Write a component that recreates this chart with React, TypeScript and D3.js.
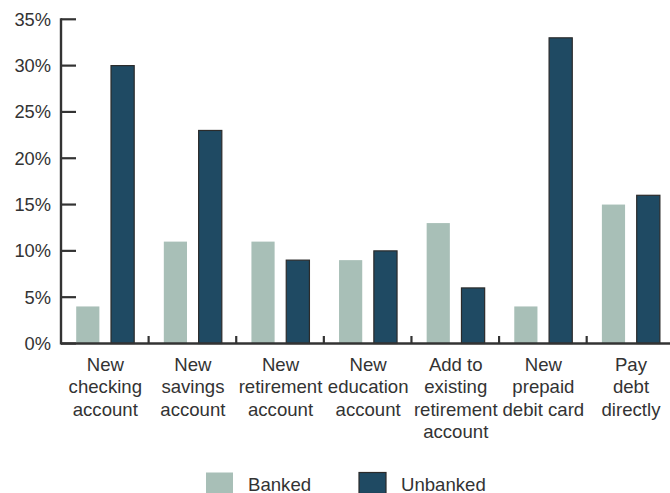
import React from "react";
import * as d3 from "d3";

const categories: string[][] = [
  ["New", "checking", "account"],
  ["New", "savings", "account"],
  ["New", "retirement", "account"],
  ["New", "education", "account"],
  ["Add to", "existing", "retirement", "account"],
  ["New", "prepaid", "debit card"],
  ["Pay", "debt", "directly"],
];
const seriesNames = ["Banked", "Unbanked"];
const banked = [4, 11, 11, 9, 13, 4, 15];
const unbanked = [30, 23, 9, 10, 6, 33, 16];
const yTicks = [0, 5, 10, 15, 20, 25, 30, 35];

const colors = ["#a8bfb7", "#1f4a63"];
const textColor = "#333333";
const font = "Arial, 'Liberation Sans', Helvetica, sans-serif";

export default function App() {
  const W = 670, H = 493;
  const x0 = 61, x1End = 674.3;
  const yScale = d3.scaleLinear().domain([0, 35]).range([343.5, 19.3]);
  const xBand = d3.scaleBand<number>().domain(categories.map((_, i) => i)).range([x0, x1End]).paddingInner(0).paddingOuter(0);
  const inner = d3.scaleBand<string>().domain(seriesNames).range([15.2, 73.2]).paddingInner(0.334).paddingOuter(0);
  const values = [banked, unbanked];

  return (
    <div style={{ position: "fixed", left: 0, top: 0 }}>
      <svg width={W} height={H} style={{ display: "block", background: "#fff" }}>
        {categories.map((_, i) =>
          seriesNames.map((s, si) => {
            const v = values[si][i];
            const bx = (xBand(i) as number) + (inner(s) as number);
            const by = yScale(v);
            return (
              <rect
                key={`${i}-${si}`}
                x={bx}
                y={by}
                width={inner.bandwidth()}
                height={yScale(0) - by}
                fill={colors[si]}
                stroke={si === 1 ? "#2b2b2b" : "none"}
                strokeWidth={si === 1 ? 1.2 : 0}
              />
            );
          })
        )}
        <line x1={x0} x2={x0} y1={yScale(35) - 1} y2={yScale(0) + 1} stroke={textColor} strokeWidth={2.4} />
        {yTicks.map((t) => (
          <g key={t}>
            <line x1={x0} x2={x0 + 15} y1={yScale(t)} y2={yScale(t)} stroke={textColor} strokeWidth={2.2} />
            <text
              x={51}
              y={yScale(t)}
              dy="0.35em"
              textAnchor="end"
              fontFamily={font}
              fontSize={18.3}
              fill={textColor}
            >
              {t}%
            </text>
          </g>
        ))}
        <line x1={x0} x2={W} y1={yScale(0)} y2={yScale(0)} stroke={textColor} strokeWidth={2.4} />
        {categories.map((_, i) =>
          i === 0 ? null : (
            <line
              key={`t${i}`}
              x1={xBand(i) as number}
              x2={xBand(i) as number}
              y1={yScale(0)}
              y2={yScale(0) - 7.5}
              stroke={textColor}
              strokeWidth={2.2}
            />
          )
        )}
        {categories.map((lines, i) => (
          <text
            key={`l${i}`}
            x={(xBand(i) as number) + xBand.bandwidth() / 2 + 0.5}
            y={371}
            textAnchor="middle"
            fontFamily={font}
            fontSize={18.6}
            fill={textColor}
          >
            {lines.map((ln, j) => (
              <tspan key={j} x={(xBand(i) as number) + xBand.bandwidth() / 2 + 0.5} y={371 + j * 22.4}>
                {ln}
              </tspan>
            ))}
          </text>
        ))}
        {seriesNames.map((s, si) => {
          const lx = [206, 359][si];
          return (
            <g key={s}>
              <rect
                x={lx}
                y={472.5}
                width={27}
                height={21}
                fill={colors[si]}
                stroke={si === 1 ? "#2b2b2b" : "none"}
                strokeWidth={si === 1 ? 1.2 : 0}
              />
              <text x={lx + 42} y={490.5} fontFamily={font} fontSize={18.6} fill={textColor}>
                {s}
              </text>
            </g>
          );
        })}
      </svg>
    </div>
  );
}
